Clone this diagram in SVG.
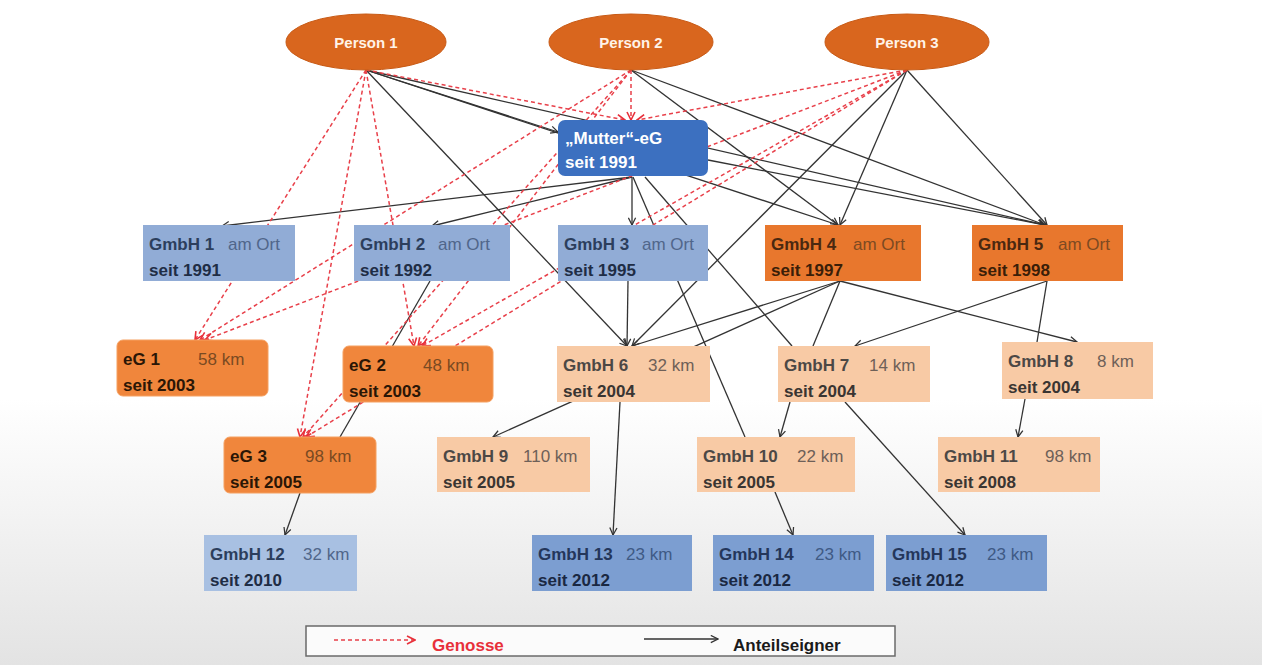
<svg xmlns="http://www.w3.org/2000/svg" width="1262" height="665" viewBox="0 0 1262 665">
<defs>
<linearGradient id="bg" x1="0" y1="0" x2="0" y2="1">
<stop offset="0" stop-color="#ffffff"/>
<stop offset="0.6" stop-color="#ffffff"/>
<stop offset="1" stop-color="#e3e3e3"/>
</linearGradient>
<marker id="ab" viewBox="0 0 10 10" refX="9" refY="5" markerWidth="9" markerHeight="9" orient="auto" markerUnits="userSpaceOnUse">
<path d="M1,1 L9,5 L1,9" fill="none" stroke="#333" stroke-width="1.4"/>
</marker>
<marker id="ar" viewBox="0 0 10 10" refX="9" refY="5" markerWidth="10" markerHeight="10" orient="auto" markerUnits="userSpaceOnUse">
<path d="M1,1 L9,5 L1,9" fill="none" stroke="#e8303a" stroke-width="1.6"/>
</marker>
</defs>
<style>
.b{stroke:#333;stroke-width:1.3;fill:none}
.ba{stroke:#333;stroke-width:1.3;fill:none;marker-end:url(#ab)}
.r{stroke:#e8404a;stroke-width:1.5;fill:none;stroke-dasharray:4 3;marker-end:url(#ar)}
.t{font-family:"Liberation Sans",Arial,sans-serif;font-size:17px}
.w{font-weight:bold}
.per{fill:#d9661e;stroke:#c85a15;stroke-width:1}
.pt{font-family:"Liberation Sans",Arial,sans-serif;font-size:15px;font-weight:bold;fill:#fff3e8}
.blue rect{fill:#91acd6}
.blue .n{fill:#2c3e5c}.blue .k{fill:#50668a}.blue .s{fill:#1f2d45}
.lblue rect{fill:#a8c0e2}
.lblue .n{fill:#2c3e5c}.lblue .k{fill:#50668a}.lblue .s{fill:#1f2d45}
.mblue rect{fill:#7c9ed1}
.mblue .n{fill:#24365a}.mblue .k{fill:#3f5a85}.mblue .s{fill:#1a2842}
.org rect{fill:#e8772d}
.org .n{fill:#4a2810}.org .k{fill:#7d4a22}.org .s{fill:#3a1e08}
.eg rect{fill:#f0863c;stroke:#f5a061;stroke-width:1}
.eg .n{fill:#2a1606}.eg .k{fill:#7a4a22}.eg .s{fill:#2a1606}
.pch rect{fill:#f8caa5}
.pch .n{fill:#4c4845}.pch .k{fill:#6e6058}.pch .s{fill:#3a3532}
</style>
<rect x="0" y="0" width="1262" height="665" fill="url(#bg)"/>

<g id="connectors">
<!-- Anteilseigner (black) -->
<line class="ba" x1="366" y1="70" x2="558" y2="132"/>
<line class="ba" x1="366" y1="70" x2="838" y2="225"/>
<line class="ba" x1="366" y1="70" x2="1045" y2="225"/>
<line class="ba" x1="366" y1="70" x2="627" y2="346"/>
<line class="ba" x1="631" y1="70" x2="838" y2="225"/>
<line class="ba" x1="631" y1="70" x2="1045" y2="225"/>
<line class="ba" x1="907" y1="70" x2="840" y2="225"/>
<line class="ba" x1="907" y1="70" x2="1047" y2="225"/>
<line class="ba" x1="907" y1="70" x2="632" y2="346"/>
<line class="ba" x1="632" y1="177" x2="222" y2="226"/>
<line class="ba" x1="632" y1="177" x2="432" y2="226"/>
<line class="ba" x1="632" y1="177" x2="632" y2="225" stroke-width="2"/>
<line class="b" x1="645" y1="177" x2="792" y2="346"/>
<line class="b" x1="633" y1="177" x2="745" y2="437"/>
<line class="ba" x1="708" y1="160" x2="1045" y2="225"/>
<line class="ba" x1="628" y1="281" x2="627" y2="346"/>
<line class="ba" x1="840" y1="281" x2="632" y2="346"/>
<line class="ba" x1="840" y1="281" x2="493" y2="437"/>
<line class="b" x1="840" y1="281" x2="813" y2="346"/>
<line class="ba" x1="840" y1="281" x2="1077" y2="342"/>
<line class="ba" x1="1047" y1="281" x2="855" y2="346"/>
<line class="b" x1="1047" y1="281" x2="1037" y2="342"/>
<line class="ba" x1="1025" y1="399" x2="1018" y2="437"/>
<line class="ba" x1="620" y1="402" x2="613" y2="535"/>
<line class="ba" x1="790" y1="402" x2="780" y2="437"/>
<line class="ba" x1="845" y1="402" x2="965" y2="535"/>
<line class="ba" x1="775" y1="492" x2="793" y2="535"/>
<line class="b" x1="430" y1="281" x2="340" y2="437"/>
<line class="ba" x1="300" y1="493" x2="285" y2="535"/>
<!-- Genosse (red dashed) -->
<line class="r" x1="631" y1="70" x2="631" y2="120" stroke-dasharray="none"/>
<line class="r" x1="366" y1="70" x2="625" y2="120"/>
<line class="r" x1="907" y1="70" x2="637" y2="120"/>
<line class="r" x1="366" y1="70" x2="195" y2="340"/>
<line class="r" x1="631" y1="70" x2="200" y2="340"/>
<line class="r" x1="907" y1="70" x2="205" y2="340"/>
<line class="r" x1="366" y1="70" x2="414" y2="346"/>
<line class="r" x1="631" y1="70" x2="418" y2="346"/>
<line class="r" x1="907" y1="70" x2="422" y2="346"/>
<line class="r" x1="366" y1="70" x2="300" y2="437"/>
<line class="r" x1="631" y1="70" x2="303" y2="437"/>
<line class="r" x1="907" y1="70" x2="306" y2="437"/>
</g>

<g id="person1"><ellipse class="per" cx="366" cy="42" rx="80" ry="28"/><text class="pt" x="366" y="48" text-anchor="middle">Person 1</text></g>
<g id="person2"><ellipse class="per" cx="631" cy="42" rx="82" ry="28"/><text class="pt" x="631" y="48" text-anchor="middle">Person 2</text></g>
<g id="person3"><ellipse class="per" cx="907" cy="42" rx="82" ry="28"/><text class="pt" x="907" y="48" text-anchor="middle">Person 3</text></g>

<g id="mutter-eg"><rect x="558" y="120" width="150" height="56" rx="7" fill="#3c70c0"/><text class="t w" x="565" y="144" fill="#ffffff">„Mutter“-eG</text><text class="t w" x="565" y="168" fill="#ffffff">seit 1991</text></g>

<g id="gmbh1" class="blue"><rect x="143" y="225" width="152" height="56"/><text class="t w n" x="149" y="250">GmbH 1</text><text class="t k" x="228" y="250">am Ort</text><text class="t w s" x="149" y="276">seit 1991</text></g>
<g id="gmbh2" class="blue"><rect x="354" y="225" width="156" height="56"/><text class="t w n" x="360" y="250">GmbH 2</text><text class="t k" x="438" y="250">am Ort</text><text class="t w s" x="360" y="276">seit 1992</text></g>
<g id="gmbh3" class="blue"><rect x="558" y="225" width="150" height="56"/><text class="t w n" x="564" y="250">GmbH 3</text><text class="t k" x="642" y="250">am Ort</text><text class="t w s" x="564" y="276">seit 1995</text></g>
<g id="gmbh4" class="org"><rect x="765" y="225" width="156" height="56"/><text class="t w n" x="771" y="250">GmbH 4</text><text class="t k" x="853" y="250">am Ort</text><text class="t w s" x="771" y="276">seit 1997</text></g>
<g id="gmbh5" class="org"><rect x="972" y="225" width="151" height="56"/><text class="t w n" x="978" y="250">GmbH 5</text><text class="t k" x="1058" y="250">am Ort</text><text class="t w s" x="978" y="276">seit 1998</text></g>

<g id="eg1" class="eg"><rect x="117" y="340" width="151" height="56" rx="6"/><text class="t w n" x="123" y="365">eG 1</text><text class="t k" x="198" y="365">58 km</text><text class="t w s" x="123" y="391">seit 2003</text></g>
<g id="eg2" class="eg"><rect x="343" y="346" width="150" height="56" rx="6"/><text class="t w n" x="349" y="371">eG 2</text><text class="t k" x="423" y="371">48 km</text><text class="t w s" x="349" y="397">seit 2003</text></g>
<g id="gmbh6" class="pch"><rect x="557" y="346" width="153" height="56"/><text class="t w n" x="563" y="371">GmbH 6</text><text class="t k" x="648" y="371">32 km</text><text class="t w s" x="563" y="397">seit 2004</text></g>
<g id="gmbh7" class="pch"><rect x="778" y="346" width="152" height="56"/><text class="t w n" x="784" y="371">GmbH 7</text><text class="t k" x="869" y="371">14 km</text><text class="t w s" x="784" y="397">seit 2004</text></g>
<g id="gmbh8" class="pch"><rect x="1002" y="342" width="151" height="57"/><text class="t w n" x="1008" y="367">GmbH 8</text><text class="t k" x="1097" y="367">8 km</text><text class="t w s" x="1008" y="393">seit 2004</text></g>

<g id="eg3" class="eg"><rect x="224" y="437" width="152" height="56" rx="6"/><text class="t w n" x="230" y="462">eG 3</text><text class="t k" x="305" y="462">98 km</text><text class="t w s" x="230" y="488">seit 2005</text></g>
<g id="gmbh9" class="pch"><rect x="437" y="437" width="153" height="55"/><text class="t w n" x="443" y="462">GmbH 9</text><text class="t k" x="523" y="462">110 km</text><text class="t w s" x="443" y="488">seit 2005</text></g>
<g id="gmbh10" class="pch"><rect x="697" y="437" width="158" height="55"/><text class="t w n" x="703" y="462">GmbH 10</text><text class="t k" x="797" y="462">22 km</text><text class="t w s" x="703" y="488">seit 2005</text></g>
<g id="gmbh11" class="pch"><rect x="938" y="437" width="162" height="55"/><text class="t w n" x="944" y="462">GmbH 11</text><text class="t k" x="1045" y="462">98 km</text><text class="t w s" x="944" y="488">seit 2008</text></g>

<g id="gmbh12" class="lblue"><rect x="204" y="535" width="153" height="56"/><text class="t w n" x="210" y="560">GmbH 12</text><text class="t k" x="303" y="560">32 km</text><text class="t w s" x="210" y="586">seit 2010</text></g>
<g id="gmbh13" class="mblue"><rect x="532" y="535" width="160" height="56"/><text class="t w n" x="538" y="560">GmbH 13</text><text class="t k" x="626" y="560">23 km</text><text class="t w s" x="538" y="586">seit 2012</text></g>
<g id="gmbh14" class="mblue"><rect x="713" y="535" width="161" height="56"/><text class="t w n" x="719" y="560">GmbH 14</text><text class="t k" x="815" y="560">23 km</text><text class="t w s" x="719" y="586">seit 2012</text></g>
<g id="gmbh15" class="mblue"><rect x="886" y="535" width="161" height="56"/><text class="t w n" x="892" y="560">GmbH 15</text><text class="t k" x="987" y="560">23 km</text><text class="t w s" x="892" y="586">seit 2012</text></g>

<g id="legend">
<rect x="306" y="626" width="589" height="30" fill="#fbfbfb" stroke="#6a6a6a" stroke-width="1.5"/>
<line class="r" x1="334" y1="640" x2="415" y2="640"/>
<text class="t w" x="432" y="651" font-size="15" fill="#e8303a">Genosse</text>
<line class="ba" x1="644" y1="639" x2="718" y2="639"/>
<text class="t w" x="733" y="651" font-size="15" fill="#1a1a1a">Anteilseigner</text>
</g>
</svg>
